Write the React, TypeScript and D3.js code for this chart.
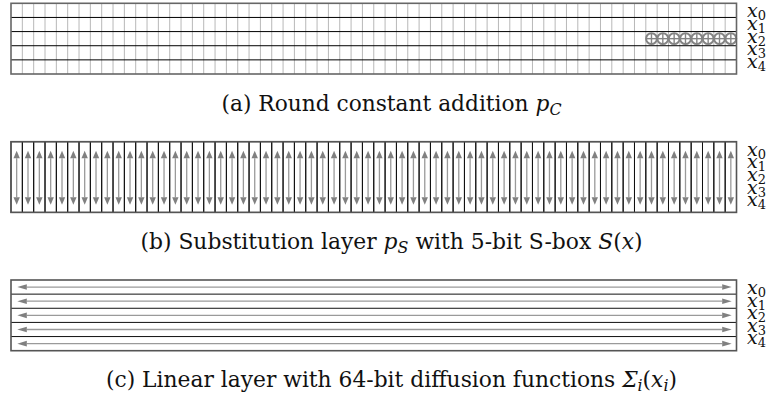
import React from "react";
import * as d3 from "d3";

// ---- data ----
const stateWords = ["0", "1", "2", "3", "4"]; // x0 .. x4
const bitCount = 64;
const bits = d3.range(bitCount);
const roundConstantWord = "2";
const roundConstantBits = [56, 57, 58, 59, 60, 61, 62, 63];
const captionA = ["(a) Round constant addition ", "p", "C"];
const captionB = ["(b) Substitution layer ", "p", "S", " with 5-bit S-box ", "S", "(", "x", ")"];
const captionC = ["(c) Linear layer with 64-bit diffusion functions ", "Σ", "i", "(", "x", "i", ")"];

// ---- layout ----
const W = 776;
const H = 401;
const left = 11;
const right = 736.5;
const panelTops = [3.3, 141.7, 280];
const panelH = 70.7;
const labelX = 747;
const serif = "DejaVu Serif";
const centerX = 391.5;

const xScale = d3.scaleBand<number>().domain(bits).range([left, right]);

function yScaleFor(top: number) {
  return d3.scaleBand<string>().domain(stateWords).range([top, top + panelH]);
}

function Labels({ top }: { top: number }) {
  return (
    <g fontFamily={serif}>
      {stateWords.map((w, i) => (
        <text key={w} x={labelX} y={top + 14 + i * 12.6} fontSize={19} fill="#111">
          <tspan fontStyle="italic">x</tspan>
          <tspan fontSize={13} dy={3}>{w}</tspan>
        </text>
      ))}
    </g>
  );
}

function PanelA() {
  const top = panelTops[0];
  const y = yScaleFor(top);
  const cy = (y(roundConstantWord) as number) + y.bandwidth() / 2;
  const r = 5.4;
  return (
    <g>
      {bits.slice(1).map((b) => (
        <line key={b} x1={xScale(b)} x2={xScale(b)} y1={top} y2={top + panelH} stroke="#b8b8b8" strokeWidth={1} />
      ))}
      {stateWords.slice(1).map((w) => (
        <line key={w} x1={left} x2={right} y1={y(w)} y2={y(w)} stroke="#000" strokeWidth={1} />
      ))}
      {roundConstantBits.map((b) => {
        const cx = (xScale(b) as number) + xScale.bandwidth() / 2;
        return (
          <g key={b}>
            <circle cx={cx} cy={cy} r={r} fill="#fff" stroke="#848484" strokeWidth={2} />
            <line x1={cx - r} x2={cx + r} y1={cy} y2={cy} stroke="#848484" strokeWidth={1.4} />
            <line x1={cx} x2={cx} y1={cy - r} y2={cy + r} stroke="#848484" strokeWidth={1.4} />
          </g>
        );
      })}
      <rect x={left} y={top} width={right - left} height={panelH} fill="none" stroke="#666" strokeWidth={1.6} />
      <Labels top={top} />
    </g>
  );
}

function PanelB() {
  const top = panelTops[1];
  const bw = xScale.bandwidth();
  const tipTop = top + 9;
  const tipBot = top + panelH - 7.7;
  const hl = 7.5;
  const hw = 3.2;
  return (
    <g>
      {bits.map((b) => {
        const x0 = xScale(b) as number;
        const cx = x0 + bw / 2;
        return (
          <g key={b}>
            <rect x={x0} y={top} width={bw} height={panelH} fill="none" stroke="#111" strokeWidth={1} />
            <line x1={cx} x2={cx} y1={tipTop + hl} y2={tipBot - hl} stroke="#9a9a9a" strokeWidth={1.3} />
            <path d={`M${cx},${tipTop} L${cx - hw},${tipTop + hl} L${cx + hw},${tipTop + hl} Z`} fill="#808080" />
            <path d={`M${cx},${tipBot} L${cx - hw},${tipBot - hl} L${cx + hw},${tipBot - hl} Z`} fill="#808080" />
          </g>
        );
      })}
      <rect x={left} y={top} width={right - left} height={panelH} fill="none" stroke="#555" strokeWidth={1.6} />
      <Labels top={top} />
    </g>
  );
}

function PanelC() {
  const top = panelTops[2];
  const y = yScaleFor(top);
  const tipL = left + 6.3;
  const tipR = right - 4.8;
  const hl = 9.5;
  const hw = 2.8;
  return (
    <g>
      {stateWords.slice(1).map((w) => (
        <line key={w} x1={left} x2={right} y1={y(w)} y2={y(w)} stroke="#111" strokeWidth={1} />
      ))}
      {stateWords.map((w) => {
        const cy = (y(w) as number) + y.bandwidth() / 2;
        return (
          <g key={w}>
            <line x1={tipL + hl} x2={tipR - hl} y1={cy} y2={cy} stroke="#9a9a9a" strokeWidth={1.3} />
            <path d={`M${tipL},${cy} L${tipL + hl},${cy - hw} L${tipL + hl},${cy + hw} Z`} fill="#808080" />
            <path d={`M${tipR},${cy} L${tipR - hl},${cy - hw} L${tipR - hl},${cy + hw} Z`} fill="#808080" />
          </g>
        );
      })}
      <rect x={left} y={top} width={right - left} height={panelH} fill="none" stroke="#555" strokeWidth={1.6} />
      <Labels top={top} />
    </g>
  );
}

const capFont = 22;
const subFont = 16;

export default function App() {
  return (
    <svg
      width={W}
      height={H}
      viewBox={`0 0 ${W} ${H}`}
      style={{ position: "absolute", left: 0, top: 0, background: "#fff" }}
    >
      <rect width={W} height={H} fill="#fff" />
      <PanelA />
      <PanelB />
      <PanelC />
      <g fontFamily={serif} fill="#111">
        <text x={centerX} y={panelTops[0] + 107.3} textAnchor="middle" fontSize={capFont} textLength={340} lengthAdjust="spacingAndGlyphs">
          <tspan>{captionA[0]}</tspan>
          <tspan fontStyle="italic">{captionA[1]}</tspan>
          <tspan fontStyle="italic" fontSize={subFont} dy={4}>{captionA[2]}</tspan>
        </text>
        <text x={centerX} y={panelTops[1] + 107.3} textAnchor="middle" fontSize={capFont} textLength={502} lengthAdjust="spacingAndGlyphs">
          <tspan>{captionB[0]}</tspan>
          <tspan fontStyle="italic">{captionB[1]}</tspan>
          <tspan fontStyle="italic" fontSize={subFont} dy={4}>{captionB[2]}</tspan>
          <tspan dy={-4}>{captionB[3]}</tspan>
          <tspan fontStyle="italic">{captionB[4]}</tspan>
          <tspan>{captionB[5]}</tspan>
          <tspan fontStyle="italic">{captionB[6]}</tspan>
          <tspan>{captionB[7]}</tspan>
        </text>
        <text x={centerX} y={panelTops[2] + 107.3} textAnchor="middle" fontSize={capFont} textLength={571} lengthAdjust="spacingAndGlyphs">
          <tspan>{captionC[0]}</tspan>
          <tspan fontStyle="italic">{captionC[1]}</tspan>
          <tspan fontStyle="italic" fontSize={subFont} dy={4}>{captionC[2]}</tspan>
          <tspan dy={-4}>{captionC[3]}</tspan>
          <tspan fontStyle="italic">{captionC[4]}</tspan>
          <tspan fontStyle="italic" fontSize={subFont} dy={4}>{captionC[5]}</tspan>
          <tspan dy={-4}>{captionC[6]}</tspan>
        </text>
      </g>
    </svg>
  );
}
